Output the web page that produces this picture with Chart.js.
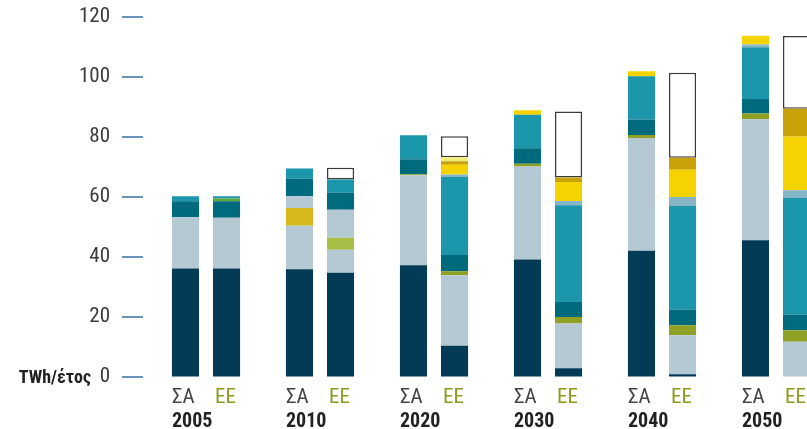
<!DOCTYPE html>
<html lang="el">
<head>
<meta charset="utf-8">
<title>Ηλεκτροπαραγωγή ΣΑ / ΕΕ</title>
<script src="https://cdn.jsdelivr.net/npm/chart.js@4.4.1/dist/chart.umd.min.js"></script>
<style>
  html, body { margin: 0; padding: 0; background: #ffffff; }
  #wrap { width: 807px; height: 429px; overflow: hidden; position: relative; }
  canvas { display: block; }
</style>
</head>
<body>
<div id="wrap"><canvas id="chart" width="840" height="429"></canvas></div>
<script>
/* ---------------------------------------------------------
   Data (TWh/έτος), bottom segment first
--------------------------------------------------------- */
const years = ["2005", "2010", "2020", "2030", "2040", "2050"];
const yTicks = [0, 20, 40, 60, 80, 100, 120];

const ligniteSA = [36.1, 35.9, 37.2, 39.1, 42.0, 45.5];
const ligniteEE = [36.1, 34.7, 10.4, 2.9, 0.9, 0];
const gasSA = [17.1, 14.5, 30.0, 31.0, 37.6, 40.3];
const gasEE = [16.9, 7.7, 23.5, 14.9, 13.0, 11.7];
const oilSA = [0, 5.9, 0, 0, 0, 0];
const oilEE = [0, 0, 0, 0, 0, 0];
const biomassSA = [0, 0, 0, 0, 0, 0];
const biomassEE = [0, 4.0, 0, 0, 0, 0];
const importsSA = [0, 3.9, 0, 0, 0, 0];
const importsEE = [0, 9.3, 0, 0, 0, 0];
const bioSA = [0, 0, 0.3, 0.9, 1.0, 1.9];
const bioEE = [0, 0, 1.3, 2.2, 3.3, 3.9];
const hydroSA = [5.3, 5.8, 5.0, 5.2, 5.1, 4.9];
const hydroEE = [5.5, 5.7, 5.4, 5.0, 5.3, 5.2];
const smallHydroSA = [0, 0, 0, 0, 0, 0];
const smallHydroEE = [0.9, 0, 0, 0, 0, 0];
const windSA = [1.7, 3.4, 8.0, 11.1, 14.4, 17.2];
const windEE = [0.8, 4.4, 26.0, 32.2, 34.4, 38.9];
const geoSA = [0, 0, 0, 0, 0, 0.9];
const geoEE = [0, 0, 0.8, 1.4, 3.0, 2.5];
const pvSA = [0, 0, 0, 1.5, 1.7, 2.9];
const pvEE = [0, 0, 3.3, 6.3, 9.1, 17.9];
const cspSA = [0, 0, 0, 0, 0, 0];
const cspEE = [0, 0, 1.1, 1.5, 4.0, 9.2];
const oceanSA = [0, 0, 0, 0, 0, 0];
const oceanEE = [0, 0, 1.4, 0, 0, 0];
const savingsSA = [0, 0, 0, 0, 0, 0];
const savingsEE = [0, 3.9, 7.0, 22.0, 28.3, 24.2];

/* ---------------------------------------------------------
   Segments: label, colour, ΣΑ values, ΕΕ values
--------------------------------------------------------- */
const segments = [
  ["Λιγνίτης", "#033a55", ligniteSA, ligniteEE],
  ["Φυσικό αέριο", "#b4c9d4", gasSA, gasEE],
  ["Πετρέλαιο", "#d5b81a", oilSA, oilEE],
  ["Βιομάζα", "#a6bd46", biomassSA, biomassEE],
  ["Εισαγωγές", "#b4c9d4", importsSA, importsEE],
  ["Βιοαέριο", "#8fa024", bioSA, bioEE],
  ["Μεγάλα υδροηλεκτρικά", "#006b7d", hydroSA, hydroEE],
  ["Μικρά υδροηλεκτρικά", "#5aa83a", smallHydroSA, smallHydroEE],
  ["Αιολικά", "#1c96aa", windSA, windEE],
  ["Γεωθερμία", "#86b5c6", geoSA, geoEE],
  ["Φωτοβολταϊκά", "#f5d300", pvSA, pvEE],
  ["Ηλιοθερμικά", "#c9a108", cspSA, cspEE],
  ["Ωκεάνια", "#eeef7a", oceanSA, oceanEE],
];

const datasets = [];
segments.forEach(([label, color, sa, ee]) => {
  datasets.push({ label: label + " ΣΑ", data: sa, stack: "ΣΑ", backgroundColor: color, borderWidth: 0 });
  datasets.push({ label: label + " ΕΕ", data: ee, stack: "ΕΕ", backgroundColor: color, borderWidth: 0 });
});
datasets.push({ label: "Εξοικονόμηση ΣΑ", data: savingsSA, stack: "ΣΑ", backgroundColor: "#ffffff",
  borderColor: "#3a3a3a", borderWidth: 1.5, borderSkipped: false });
datasets.push({ label: "Εξοικονόμηση ΕΕ", data: savingsEE, stack: "ΕΕ", backgroundColor: "#ffffff",
  borderColor: "#3a3a3a", borderWidth: 1.5, borderSkipped: false });

const narrow = "'Liberation Sans Narrow', 'Roboto Condensed', 'DejaVu Sans Condensed', sans-serif";

/* ---------------------------------------------------------
   Extra drawing: y tick dashes, unit label, bar labels
--------------------------------------------------------- */
const decorations = {
  id: "decorations",
  afterDraw(chart) {
    const { ctx } = chart;
    const y = chart.scales.y;

    ctx.save();
    ctx.strokeStyle = "#6a93bb";
    ctx.lineWidth = 2;
    yTicks.forEach((v) => {
      const py = Math.round(y.getPixelForValue(v));
      ctx.beginPath();
      ctx.moveTo(122, py);
      ctx.lineTo(143, py);
      ctx.stroke();
    });

    ctx.fillStyle = "#222222";
    ctx.font = "bold 18px " + narrow;
    ctx.textAlign = "right";
    ctx.textBaseline = "middle";
    ctx.fillText("TWh/έτος", 91, y.getPixelForValue(0) + 1);

    const saMeta = chart.getDatasetMeta(0);
    const eeMeta = chart.getDatasetMeta(1);
    ctx.textAlign = "left";
    ctx.textBaseline = "alphabetic";
    years.forEach((yr, i) => {
      const sa = saMeta.data[i];
      const ee = eeMeta.data[i];
      const saLeft = sa.x - sa.width / 2;
      const eeLeft = ee.x - ee.width / 2;
      ctx.font = "21px " + narrow;
      ctx.fillStyle = "#444444";
      ctx.fillText("ΣΑ", saLeft, 403);
      ctx.fillStyle = "#8a9a1e";
      ctx.fillText("ΕΕ", eeLeft + 2, 403);
      ctx.font = "bold 20px " + narrow;
      ctx.fillStyle = "#222222";
      ctx.fillText(yr, saLeft, 427);
    });
    ctx.restore();
  },
};

new Chart(document.getElementById("chart"), {
  type: "bar",
  data: { labels: years, datasets },
  options: {
    responsive: false,
    animation: false,
    layout: { padding: { top: 16, bottom: 52, left: 0, right: 7 } },
    plugins: { legend: { display: false }, tooltip: { enabled: false } },
    datasets: { bar: { categoryPercentage: 0.72, barPercentage: 0.66 } },
    scales: {
      x: { stacked: true, display: false },
      y: {
        stacked: true,
        min: 0,
        max: 120,
        afterFit: (scale) => { scale.width = 149; },
        border: { display: false },
        grid: { display: true, drawOnChartArea: false, drawTicks: true, tickLength: 35, color: "rgba(0,0,0,0)" },
        ticks: {
          stepSize: 20,
          padding: 4,
          color: "#3b3b3b",
          font: { family: narrow, size: 21 },
        },
      },
    },
  },
  plugins: [decorations],
});
</script>
</body>
</html>
